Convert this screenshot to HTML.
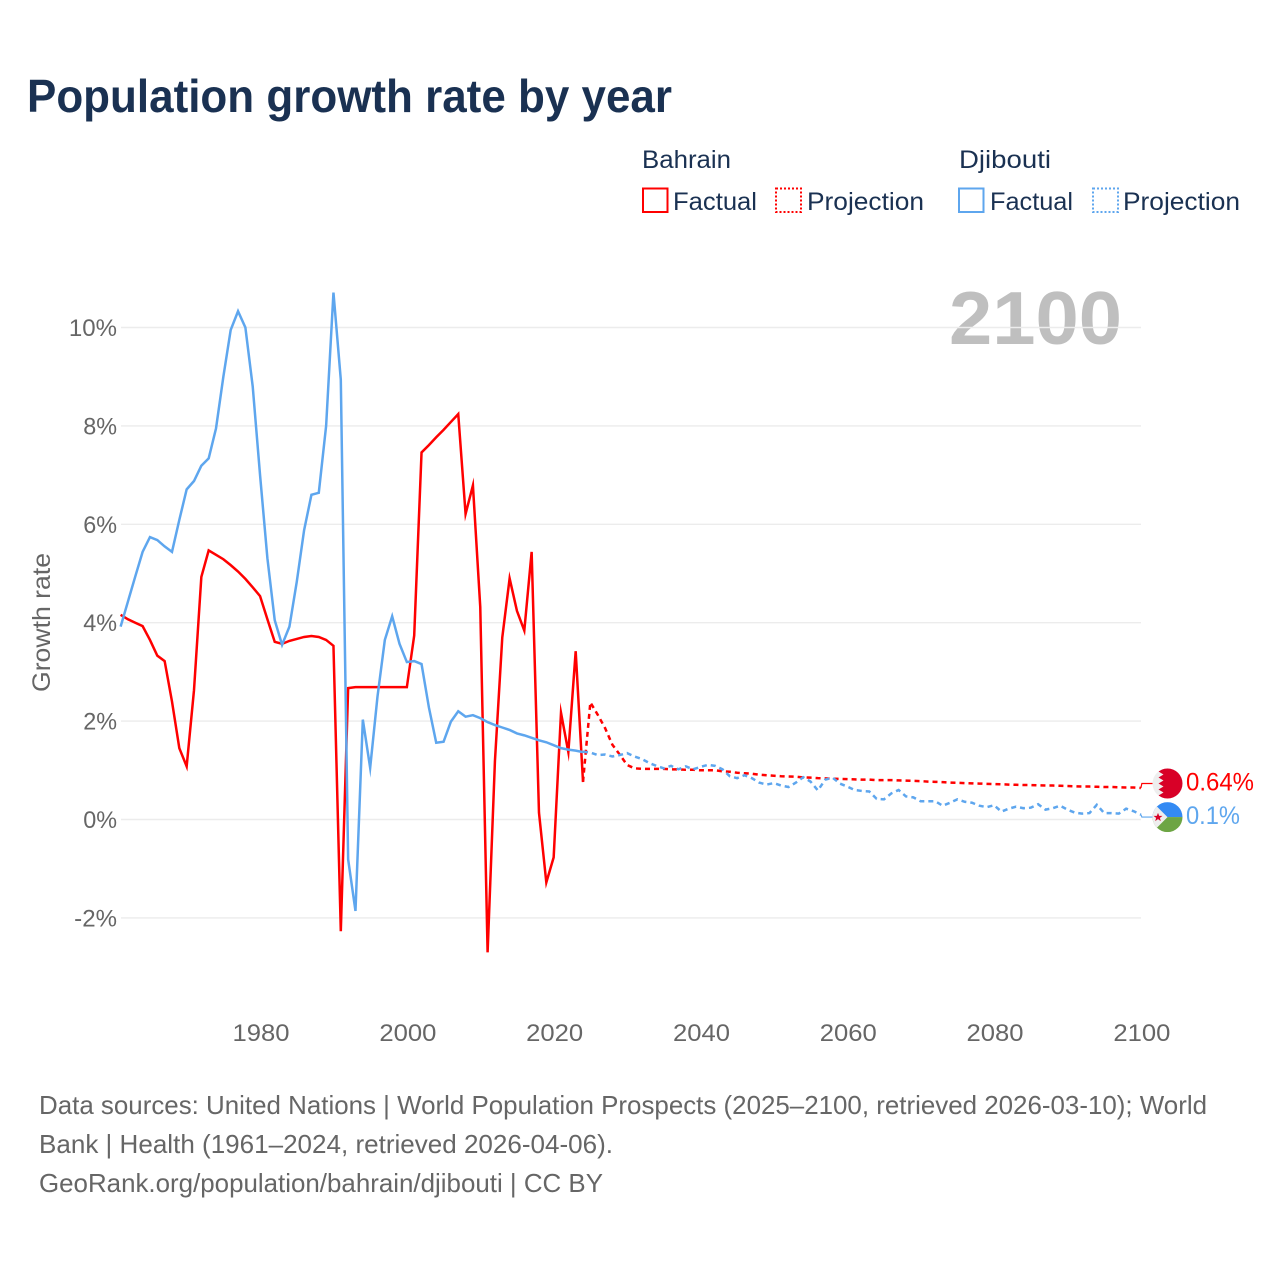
<!DOCTYPE html>
<html lang="en">
<head>
<meta charset="utf-8">
<title>Population growth rate by year</title>
<style>
  html, body { margin: 0; padding: 0; background: #ffffff; }
  #chart { display: block; width: 1280px; height: 1280px; font-family: "Liberation Sans", sans-serif; }
  text { font-family: "Liberation Sans", sans-serif; }
</style>
</head>
<body>
<svg id="chart" xmlns="http://www.w3.org/2000/svg" width="1280" height="1280" viewBox="0 0 1280 1280">
  <rect x="0" y="0" width="1280" height="1280" fill="#ffffff"/>

  <text x="27" y="112" font-size="46" font-weight="700" fill="#1a3152" textLength="645" lengthAdjust="spacingAndGlyphs">Population growth rate by year</text>

  <g>
    <text x="642" y="168" font-size="25" fill="#1a3152" textLength="89" lengthAdjust="spacingAndGlyphs">Bahrain</text>
    <rect x="643" y="188.5" width="24.5" height="23.5" fill="none" stroke="#ff0000" stroke-width="2"/>
    <text x="673" y="210" font-size="25" fill="#1a3152" textLength="84" lengthAdjust="spacingAndGlyphs">Factual</text>
    <rect x="776" y="188.5" width="25" height="23.5" fill="none" stroke="#ff0000" stroke-width="2" stroke-dasharray="2 2"/>
    <text x="807" y="210" font-size="25" fill="#1a3152" textLength="117" lengthAdjust="spacingAndGlyphs">Projection</text>

    <text x="959" y="168" font-size="25" fill="#1a3152" textLength="92" lengthAdjust="spacingAndGlyphs">Djibouti</text>
    <rect x="959" y="188.5" width="24.5" height="23.5" fill="none" stroke="#5ea6ee" stroke-width="2"/>
    <text x="990" y="210" font-size="25" fill="#1a3152" textLength="83" lengthAdjust="spacingAndGlyphs">Factual</text>
    <rect x="1093" y="188.5" width="25" height="23.5" fill="none" stroke="#5ea6ee" stroke-width="2" stroke-dasharray="2 2"/>
    <text x="1123" y="210" font-size="25" fill="#1a3152" textLength="117" lengthAdjust="spacingAndGlyphs">Projection</text>
  </g>

  <text x="949" y="344" font-size="75" font-weight="700" fill="#bfbfbf" textLength="173" lengthAdjust="spacingAndGlyphs">2100</text>

  <g id="grid-layer"></g>
  <g id="y-tick-layer"></g>
  <g id="x-tick-layer"></g>

  <text transform="translate(50 622.5) rotate(-90)" text-anchor="middle" font-size="25" fill="#666666" textLength="139" lengthAdjust="spacingAndGlyphs">Growth rate</text>

  <g id="series-layer"></g>
  <g id="end-layer"></g>

  <g>
    <text x="39" y="1114" font-size="26" fill="#666666" textLength="1168" lengthAdjust="spacingAndGlyphs">Data sources: United Nations | World Population Prospects (2025–2100, retrieved 2026-03-10); World</text>
    <text x="39" y="1153" font-size="26" fill="#666666" textLength="574" lengthAdjust="spacingAndGlyphs">Bank | Health (1961–2024, retrieved 2026-04-06).</text>
    <text x="39" y="1192" font-size="26" fill="#666666" textLength="564" lengthAdjust="spacingAndGlyphs">GeoRank.org/population/bahrain/djibouti | CC BY</text>
  </g>
</svg>

<script>
const xTickYears = [1980, 2000, 2020, 2040, 2060, 2080, 2100];
const yTickValues = [-2, 0, 2, 4, 6, 8, 10];

const factualStartYear = 1961;
const projectionStartYear = 2024;

const bahrainFactual = [
  4.16, 4.07, 4.00, 3.93, 3.65, 3.33, 3.22, 2.40, 1.45, 1.08,
  2.63, 4.93, 5.47, 5.38, 5.29, 5.17, 5.04, 4.89, 4.72, 4.54,
  4.07, 3.61, 3.57, 3.63, 3.67, 3.71, 3.73, 3.71, 3.65, 3.53,
  -2.27, 2.67, 2.69, 2.69, 2.69, 2.69, 2.69, 2.69, 2.69, 2.69,
  3.74, 7.46, 7.61, 7.77, 7.92, 8.08, 8.24, 6.21, 6.79, 4.32,
  -2.70, 1.19, 3.70, 4.90, 4.24, 3.84, 5.44, 0.14, -1.28, -0.77,
  2.17, 1.37, 3.42, 0.76
];

const djiboutiFactual = [
  3.92, 4.43, 4.94, 5.44, 5.74, 5.68, 5.55, 5.44, 6.09, 6.71,
  6.88, 7.19, 7.34, 7.95, 9.00, 9.95, 10.33, 10.00, 8.80, 7.00,
  5.31, 4.05, 3.55, 3.92, 4.83, 5.88, 6.60, 6.64, 8.00, 10.71,
  8.94, -0.81, -1.86, 2.03, 1.05, 2.50, 3.65, 4.13, 3.57, 3.20,
  3.22, 3.16, 2.28, 1.56, 1.58, 1.99, 2.20, 2.09, 2.12, 2.06,
  1.98, 1.92, 1.87, 1.82, 1.75, 1.71, 1.66, 1.61, 1.57, 1.51,
  1.45, 1.42, 1.40, 1.37
];

const bahrainProjection = [
  0.77, 2.38, 2.13, 1.86, 1.52, 1.32, 1.11, 1.04, 1.03, 1.03,
  1.03, 1.03, 1.02, 1.02, 1.01, 1.01, 1.00, 1.00, 1.00, 0.98,
  0.97, 0.95, 0.94, 0.93, 0.91, 0.90, 0.89, 0.88, 0.875, 0.87,
  0.855, 0.85, 0.84, 0.835, 0.83, 0.825, 0.82, 0.815, 0.81, 0.81,
  0.80, 0.80, 0.80, 0.795, 0.79, 0.785, 0.78, 0.77, 0.765, 0.76,
  0.75, 0.745, 0.74, 0.735, 0.73, 0.725, 0.72, 0.715, 0.71, 0.705,
  0.70, 0.70, 0.695, 0.69, 0.69, 0.685, 0.68, 0.675, 0.67, 0.67,
  0.665, 0.66, 0.66, 0.655, 0.65, 0.65, 0.64
];

const djiboutiProjection = [
  1.38, 1.36, 1.31, 1.32, 1.28, 1.31, 1.35, 1.28, 1.23, 1.15,
  1.09, 1.04, 1.09, 1.02, 1.08, 1.02, 1.07, 1.11, 1.09, 1.02,
  0.88, 0.84, 0.90, 0.84, 0.75, 0.71, 0.74, 0.69, 0.66, 0.75,
  0.86, 0.77, 0.59, 0.81, 0.85, 0.73, 0.67, 0.60, 0.58, 0.57,
  0.42, 0.41, 0.53, 0.60, 0.47, 0.45, 0.37, 0.37, 0.37, 0.28,
  0.34, 0.41, 0.36, 0.34, 0.28, 0.25, 0.29, 0.16, 0.22, 0.26,
  0.23, 0.24, 0.31, 0.20, 0.23, 0.28, 0.20, 0.14, 0.12, 0.13,
  0.30, 0.13, 0.13, 0.12, 0.22, 0.17, 0.10
];

const SVGNS = 'http://www.w3.org/2000/svg';

function xScale(year) { return 120.6 + (year - 1961) * 7.34; }
function yScale(value) { return 819.5 - value * 49.2; }

function make(tag, attrs, parent) {
  const el = document.createElementNS(SVGNS, tag);
  for (const k in attrs) el.setAttribute(k, attrs[k]);
  parent.appendChild(el);
  return el;
}

function pointsFor(values, startYear) {
  return values.map(function (v, i) {
    return xScale(startYear + i).toFixed(2) + ',' + yScale(v).toFixed(2);
  }).join(' ');
}

function yLabelWidth(label) {
  let w = 0;
  for (const c of label) w += c === '%' ? 19.5 : c === '-' ? 9 : 14.3;
  return w;
}

const gridLayer = document.getElementById('grid-layer');
const yLayer = document.getElementById('y-tick-layer');
const xLayer = document.getElementById('x-tick-layer');
const seriesLayer = document.getElementById('series-layer');
const endLayer = document.getElementById('end-layer');

yTickValues.forEach(function (v) {
  const line = make('line', { x1: 121, x2: 1141, y1: yScale(v), y2: yScale(v), stroke: '#ececec', 'stroke-width': 1.4 }, gridLayer);
  
  
  const label = v + '%';
  const t = make('text', { x: 117, y: yScale(v) + 8.5, 'text-anchor': 'end', 'font-size': 24, fill: '#666666', textLength: yLabelWidth(label), lengthAdjust: 'spacingAndGlyphs' }, yLayer);
  t.textContent = label;
  
  
});

xTickYears.forEach(function (yr) {
  const t = make('text', { x: xScale(yr) + 1, y: 1041, 'text-anchor': 'middle', 'font-size': 24, fill: '#666666', textLength: 57, lengthAdjust: 'spacingAndGlyphs' }, xLayer);
  t.textContent = String(yr);
  
  
});

const lineBase = { fill: 'none', 'stroke-width': 2.5, 'stroke-linejoin': 'miter', 'stroke-miterlimit': 10 };

const bahrainFactualLine = make('polyline', Object.assign({ points: pointsFor(bahrainFactual, factualStartYear), stroke: '#ff0000' }, lineBase), seriesLayer);



const bahrainProjectionLine = make('polyline', Object.assign({ points: pointsFor(bahrainProjection, projectionStartYear), stroke: '#ff0000', 'stroke-dasharray': '5 4' }, lineBase), seriesLayer);



const djiboutiFactualLine = make('polyline', Object.assign({ points: pointsFor(djiboutiFactual, factualStartYear), stroke: '#5ea6ee' }, lineBase), seriesLayer);



const djiboutiProjectionLine = make('polyline', Object.assign({ points: pointsFor(djiboutiProjection, projectionStartYear), stroke: '#5ea6ee', 'stroke-dasharray': '5 4' }, lineBase), seriesLayer);



/* End-of-line connectors, flags and value labels */
const lastBahrain = bahrainProjection[bahrainProjection.length - 1];
const lastDjibouti = djiboutiProjection[djiboutiProjection.length - 1];
const endX = xScale(2100);
const bahrainEndY = yScale(lastBahrain);
const djiboutiEndY = yScale(lastDjibouti);
const bahrainFlagY = bahrainEndY - 4.5;
const djiboutiFlagY = djiboutiEndY + 2.5;
const flagX = 1167.5;

const bahrainConnector = make('polyline', { points: endX + ',' + bahrainEndY + ' ' + (endX + 1) + ',' + bahrainFlagY + ' ' + (flagX - 15) + ',' + bahrainFlagY, fill: 'none', stroke: '#ff0000', 'stroke-width': 1.2 }, endLayer);



const djiboutiConnector = make('polyline', { points: endX + ',' + djiboutiEndY + ' ' + (endX + 1) + ',' + djiboutiFlagY + ' ' + (flagX - 15) + ',' + djiboutiFlagY, fill: 'none', stroke: '#5ea6ee', 'stroke-width': 1.2 }, endLayer);



const defs = make('defs', {}, endLayer);
const clip = make('clipPath', { id: 'flag-clip' }, defs);
make('circle', { cx: 0, cy: 0, r: 15 }, clip);

/* Bahrain flag */
const bahrainFlag = make('g', { transform: 'translate(' + flagX + ' ' + bahrainFlagY + ')', 'clip-path': 'url(#flag-clip)' }, endLayer);


make('rect', { x: -15, y: -15, width: 30, height: 30, fill: '#eeeeee' }, bahrainFlag);
make('path', { d: 'M-4,-15 L15,-15 L15,15 L-4,15 L-9,12 L-4,9 L-9,6 L-4,3 L-9,0 L-4,-3 L-9,-6 L-4,-9 L-9,-12 Z', fill: '#d80027' }, bahrainFlag);

/* Djibouti flag */
const djiboutiFlag = make('g', { transform: 'translate(' + flagX + ' ' + djiboutiFlagY + ')', 'clip-path': 'url(#flag-clip)' }, endLayer);


make('rect', { x: -15, y: -15, width: 30, height: 15, fill: '#338af3' }, djiboutiFlag);
make('rect', { x: -15, y: 0, width: 30, height: 15, fill: '#6da544' }, djiboutiFlag);
make('path', { d: 'M-15,-15 L0,0 L-15,15 Z', fill: '#eeeeee' }, djiboutiFlag);
make('path', { d: 'M-9.5,-4.2 L-8.3,-1.2 L-5,-1.2 L-7.6,0.8 L-6.7,4 L-9.5,2.1 L-12.3,4 L-11.4,0.8 L-14,-1.2 L-10.7,-1.2 Z', fill: '#d80027' }, djiboutiFlag);

const bahrainValue = make('text', { x: 1186, y: bahrainFlagY + 7, 'font-size': 25, fill: '#ff0000', textLength: 68, lengthAdjust: 'spacingAndGlyphs' }, endLayer);
bahrainValue.textContent = lastBahrain + '%';



const djiboutiValue = make('text', { x: 1186, y: djiboutiFlagY + 7, 'font-size': 25, fill: '#5ea6ee', textLength: 54, lengthAdjust: 'spacingAndGlyphs' }, endLayer);
djiboutiValue.textContent = lastDjibouti + '%';


</script>
</body>
</html>
